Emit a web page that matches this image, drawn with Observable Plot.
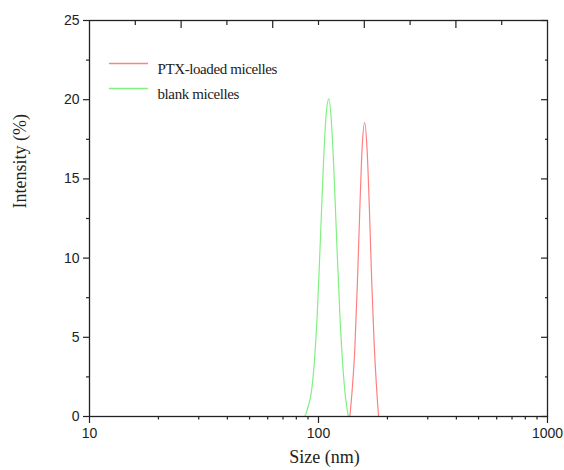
<!DOCTYPE html>
<html><head><meta charset="utf-8">
<script src="https://cdn.jsdelivr.net/npm/d3@7"></script>
<script src="https://cdn.jsdelivr.net/npm/@observablehq/plot@0.6"></script>
<style>
body{margin:0;background:#fff}
#chart{width:564px;height:470px}
.legendtxt text{letter-spacing:-0.4px}
</style>
</head><body><div id="chart"></div>
<script>
const seriesNames = ["PTX-loaded micelles", "blank micelles"];
const seriesColors = ["#ff8080", "#80f080"];

// PTX-loaded micelles
const sizePTX = [137, 140, 144, 148, 152, 155, 159, 163, 167, 171, 175, 179, 181, 183];
const intPTX  = [0, 1.5, 4.2, 8.6, 13.7, 16.9, 18.55, 16.85, 12.9, 8.3, 4.6, 2.0, 0.9, 0];

// blank micelles
const sizeBlank = [87, 88, 90, 93, 96, 99, 102, 105, 108, 111, 114, 117, 120, 124, 128, 131, 135];
const intBlank  = [0, 0.15, 0.6, 1.5, 3.5, 6.8, 11.3, 15.8, 19.1, 20.05, 18.5, 15.2, 11.2, 6.4, 3.0, 1.3, 0];

const xMajorTicks = [10, 100, 1000];
const xMinorTicks = [20, 30, 40, 50, 60, 70, 80, 90, 200, 300, 400, 500, 600, 700, 800, 900];
const yMajorTicks = [0, 5, 10, 15, 20, 25];
const yMinorTicks = [2.5, 7.5, 12.5, 17.5, 22.5];
const topMajorTicks = [25.12, 63.1, 158.5, 398.1];
const topMinorTicks = [15.85, 39.81, 100, 251.2, 631];

const xTitle = "Size (nm)";
const yTitle = "Intensity (%)";

const rows = [
  ...sizePTX.map((s, i) => ({series: seriesNames[0], size: s, intensity: intPTX[i]})),
  ...sizeBlank.map((s, i) => ({series: seriesNames[1], size: s, intensity: intBlank[i]}))
];

const lineShape = {draw(ctx, l) { ctx.moveTo(0, 0); ctx.lineTo(0, -l); }};
const ink = "#222";
const blank = () => "";

const chart = Plot.plot({
  width: 564, height: 470,
  marginLeft: 89, marginRight: 17, marginTop: 20, marginBottom: 54,
  x: {type: "log", domain: [10, 1000]},
  y: {domain: [0, 25]},
  color: {domain: seriesNames, range: seriesColors},
  style: {background: "#fff", color: ink, fontFamily: "Liberation Sans"},
  marks: [
    Plot.line(rows, {x: "size", y: "intensity", z: "series", stroke: "series", curve: "monotone-x", strokeWidth: 1.2}),
    Plot.frame({stroke: ink, strokeWidth: 1.3}),
    Plot.axisX({ticks: xMajorTicks, tickSize: 7, tickPadding: 5, fontSize: 14, label: null, tickFormat: d => String(d), strokeWidth: 1.2}),
    Plot.axisX({ticks: xMinorTicks, tickSize: 3.5, label: null, tickFormat: blank, strokeWidth: 1.2}),
    Plot.axisX({anchor: "top", ticks: topMajorTicks, tickSize: 7, dy: 7, label: null, tickFormat: blank, strokeWidth: 1.2}),
    Plot.axisX({anchor: "top", ticks: topMinorTicks, tickSize: 4, dy: 4, label: null, tickFormat: blank, strokeWidth: 1.2}),
    Plot.axisY({ticks: yMajorTicks, tickSize: 6, tickPadding: 4, fontSize: 14, label: null, tickFormat: d => String(d), strokeWidth: 1.2}),
    Plot.axisY({ticks: yMinorTicks, tickSize: 3, label: null, tickFormat: blank, strokeWidth: 1.2}),
    Plot.axisY({anchor: "right", ticks: yMajorTicks, tickSize: 7, dx: -7, label: null, tickFormat: blank, strokeWidth: 1.2}),
    Plot.axisY({anchor: "right", ticks: yMinorTicks, tickSize: 3, dx: -3, label: null, tickFormat: blank, strokeWidth: 1.2}),
    // legend
    Plot.vector([0], {frameAnchor: "top-left", dx: 20, dy: 43, rotate: 90, length: 38, anchor: "start", shape: lineShape, stroke: seriesColors[0], strokeWidth: 1.3}),
    Plot.vector([0], {frameAnchor: "top-left", dx: 20, dy: 68, rotate: 90, length: 38, anchor: "start", shape: lineShape, stroke: seriesColors[1], strokeWidth: 1.3}),
    Plot.text([seriesNames[0]], {frameAnchor: "top-left", dx: 68, dy: 43, textAnchor: "start", fontFamily: "Liberation Serif", fontSize: 15, fill: ink, className: "legendtxt"}),
    Plot.text([seriesNames[1]], {frameAnchor: "top-left", dx: 68, dy: 68, textAnchor: "start", fontFamily: "Liberation Serif", fontSize: 15, fill: ink, className: "legendtxt"}),
    // axis titles
    Plot.text([xTitle], {frameAnchor: "bottom", dx: 6, dy: 46, fontFamily: "Liberation Serif", fontSize: 18, fill: ink}),
    Plot.text([yTitle], {frameAnchor: "left", dx: -69, dy: -10, rotate: -90, fontFamily: "Liberation Serif", fontSize: 18, fill: ink})
  ]
});
document.getElementById("chart").appendChild(chart);
</script>
</body></html>
